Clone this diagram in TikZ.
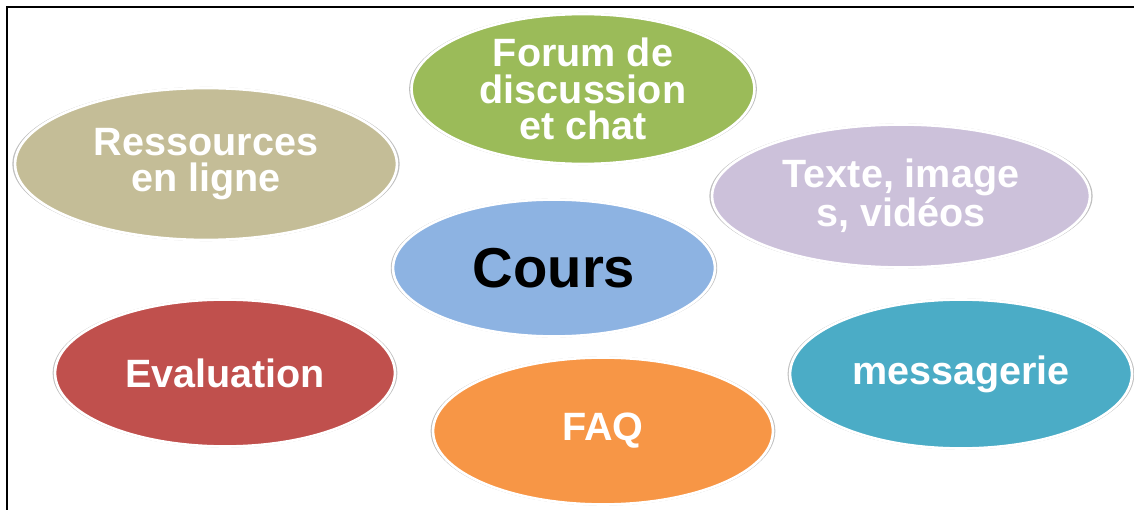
\documentclass[tikz,border=0pt]{standalone}
\usepackage{fontspec}
\setmainfont{Liberation Sans}
\usepackage{xcolor}
\usetikzlibrary{shapes.geometric, shadows}

\definecolor{ressColor}{HTML}{C4BD97}
\definecolor{forumColor}{HTML}{9BBB59}
\definecolor{texteColor}{HTML}{CCC1DA}
\definecolor{coursColor}{HTML}{8DB3E2}
\definecolor{evalColor}{HTML}{C0504D}
\definecolor{faqColor}{HTML}{F79646}
\definecolor{msgColor}{HTML}{4BACC6}

\begin{document}
\begin{tikzpicture}[x=0.02cm, y=-0.02cm,
    bubble/.style={ellipse, draw=white, line width=1.5pt, inner sep=0pt,
      text=white, align=center, font=\bfseries\fontsize{22.5}{20.8}\selectfont,
      general shadow={fill=black!25, shadow scale=1.014}}]
      \useasboundingbox (0, 0) rectangle (1134, 510);

      % frame
      \draw[line width=1.6pt] (7, 510) -- (7, 7) -- (1134, 7);

      \node[bubble, fill=ressColor, minimum width=7.64cm, minimum height=3.04cm] (ress) at (206, 164) {Ressources\\en ligne};
      \node[bubble, fill=forumColor, minimum width=6.86cm, minimum height=3.0cm] (forum) at (583, 89) {Forum de\\discussion\\et chat};
      \node[bubble, fill=texteColor, minimum width=7.56cm, minimum height=2.86cm] (texte) at (901, 196) {Texte, image\\s, vidéos};
      \node[bubble, fill=coursColor, minimum width=6.44cm, minimum height=2.74cm, text=black,
        font=\bfseries\fontsize{32}{32}\selectfont] (cours) at (554, 268) {Cours};
      \node[bubble, fill=evalColor, minimum width=6.8cm, minimum height=2.94cm] (eval) at (225, 373) {Evaluation};
      \node[bubble, fill=faqColor, minimum width=6.8cm, minimum height=2.94cm] (faq) at (603, 431) {FAQ};
      \node[bubble, fill=msgColor, minimum width=6.84cm, minimum height=2.98cm] (msg) at (961, 374) {messagerie};

    \end{tikzpicture}
\end{document}
